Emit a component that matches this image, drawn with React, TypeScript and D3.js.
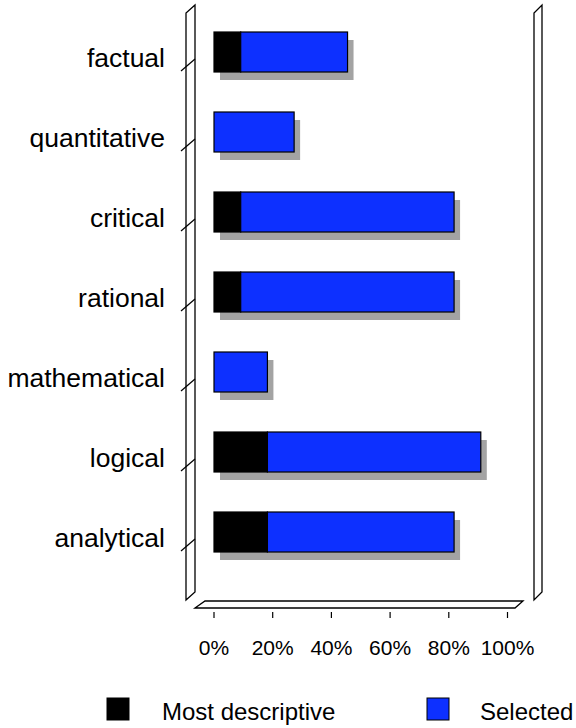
import React from "react";
import * as d3 from "d3";

const categories = ["factual", "quantitative", "critical", "rational", "mathematical", "logical", "analytical"];
// percentage of respondents (stacked segments)
const mostDescriptive = [9.1, 0, 9.1, 9.1, 0, 18.2, 18.2];
const selectedOnly = [36.4, 27.3, 72.7, 72.7, 18.2, 72.7, 63.6];
const xTicks = [0, 20, 40, 60, 80, 100];
const legendLabels = ["Most descriptive", "Selected"];

const W = 576;
const H = 728;
const FONT = "'Liberation Sans', Arial, Helvetica, sans-serif";
const BLUE = "#0d30ff";
const SHADOW = "#a3a3a3";

export default function App() {
  const x = d3.scaleLinear().domain([0, 100]).range([214, 507.5]);
  const y = d3.scaleBand<string>().domain(categories).range([12, 572]).paddingInner(0.5).paddingOuter(0.25);
  const bw = y.bandwidth();

  const wallL = { outer: 186, inner: 195 };
  const wallR = { outer: 534, inner: 542 };
  const top = 13, bottom = 600, dx = 9, dy = 8;

  return (
    <svg width={W} height={H} style={{ position: "absolute", left: 0, top: 0, background: "#fff" }} fontFamily={FONT}>
      {/* walls */}
      <g fill="none" stroke="#000" strokeWidth={1.3}>
        <path d={`M${wallL.outer},${bottom}V${top}L${wallL.outer + dx},${top - dy}V${bottom - dy}Z`} />
        <path d={`M${wallR.outer},${bottom}V${top}L${wallR.outer + dx - 1},${top - dy}V${bottom - dy}Z`} />
        {/* floor */}
        <path d={`M195,608L205,601H523L515,608Z`} />
      </g>
      {/* category slashes on left wall */}
      <g stroke="#000" strokeWidth={1.2}>
        {categories.map((c) => {
          const cy = (y(c) as number) + bw / 2;
          return <line key={c} x1={181} y1={cy + 19} x2={195} y2={cy + 7} />;
        })}
      </g>
      {/* bars */}
      {categories.map((c, i) => {
        const y0 = y(c) as number;
        const total = mostDescriptive[i] + selectedOnly[i];
        return (
          <g key={c}>
            <rect x={x(0) + 6} y={y0 + 8} width={x(total) - x(0)} height={bw} fill={SHADOW} />
            {mostDescriptive[i] > 0 && (
              <rect x={x(0)} y={y0} width={x(mostDescriptive[i]) - x(0)} height={bw} fill="#000" stroke="#000" strokeWidth={1.2} />
            )}
            <rect
              x={x(mostDescriptive[i])}
              y={y0}
              width={x(total) - x(mostDescriptive[i])}
              height={bw}
              fill={BLUE}
              stroke="#000"
              strokeWidth={1.2}
            />
          </g>
        );
      })}
      {/* category labels */}
      {categories.map((c) => {
        const cy = (y(c) as number) + bw / 2;
        return (
          <text key={c} x={165} y={cy + 15} textAnchor="end" fontSize={26.5} fill="#000">
            {c}
          </text>
        );
      })}
      {/* x ticks */}
      {xTicks.map((t) => (
        <g key={t}>
          <line x1={x(t)} x2={x(t)} y1={612} y2={618} stroke="#000" strokeWidth={1.2} />
          <text x={x(t)} y={655} textAnchor="middle" fontSize={21} fill="#000">
            {`${t}%`}
          </text>
        </g>
      ))}
      {/* legend */}
      <rect x={107} y={698} width={22} height={22} fill="#000" stroke="#000" strokeWidth={1} />
      <text x={162} y={720} fontSize={24} fill="#000">{legendLabels[0]}</text>
      <rect x={427} y={698} width={22} height={22} fill={BLUE} stroke="#000" strokeWidth={1} />
      <text x={480} y={720} fontSize={24} fill="#000">{legendLabels[1]}</text>
    </svg>
  );
}
